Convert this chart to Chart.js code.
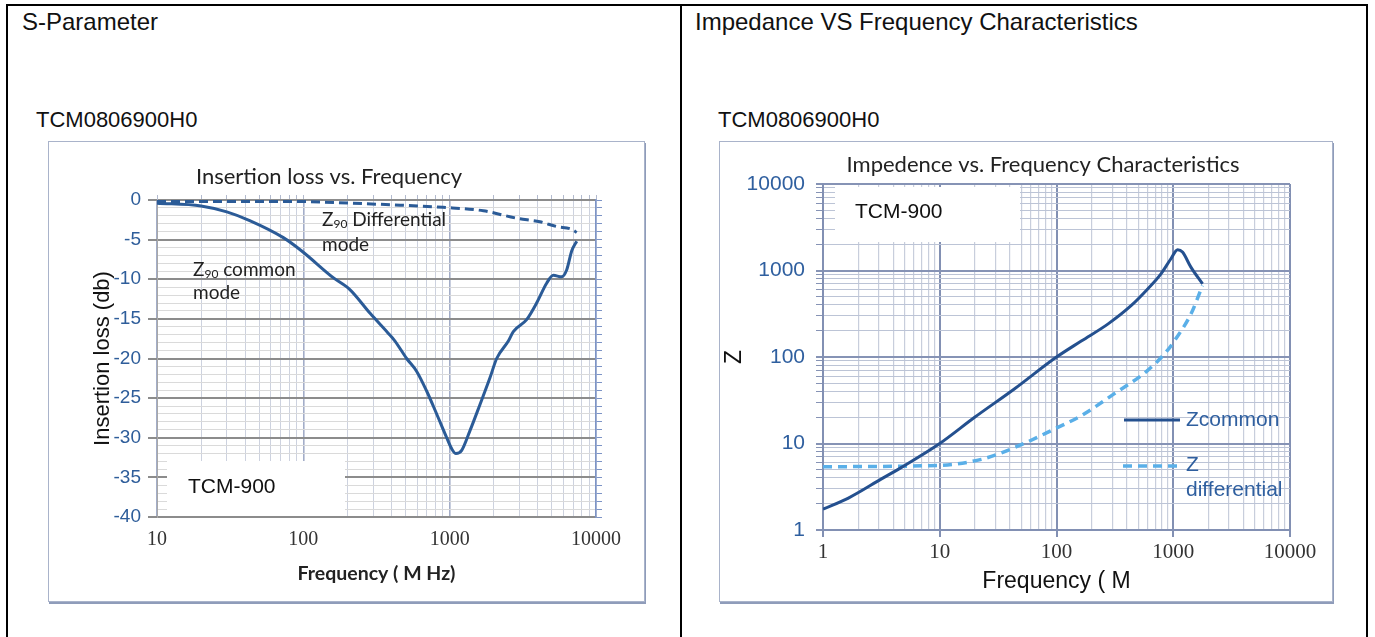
<!DOCTYPE html>
<html>
<head>
<meta charset="utf-8">
<script src="https://cdn.jsdelivr.net/npm/chart.js@4.4.1/dist/chart.umd.min.js"></script>
<style>
html,body{margin:0;padding:0;background:#fff;width:1375px;height:637px;overflow:hidden;font-family:"Liberation Sans",Arial,sans-serif;}
.frame{position:absolute;left:6px;top:4px;width:1362px;height:700px;border:2px solid #000;box-sizing:border-box;}
.divider{position:absolute;left:680px;top:4px;width:2px;height:700px;background:#000;}
.h{position:absolute;line-height:1;color:#111;white-space:nowrap;}
.h1{font-size:24px;}
.h2{font-size:22px;}
.box{position:absolute;border:1px solid #a9b3ca;box-shadow:1px 2px 0 #8f9cba;background:#fff;}
.box canvas{position:absolute;left:0;top:0;display:block;}
</style>
</head>
<body>
<div class="frame"></div>
<div class="divider"></div>
<div class="h h1" style="left:22px;top:10px;">S-Parameter</div>
<div class="h h1" style="left:695px;top:10px;">Impedance VS Frequency Characteristics</div>
<div class="h h2" style="left:36px;top:109px;">TCM0806900H0</div>
<div class="h h2" style="left:718px;top:109px;">TCM0806900H0</div>

<div class="box" style="left:48px;top:141px;width:595px;height:459px;">
  <canvas id="c1" width="595" height="459" style="width:595px;height:459px;"></canvas>
</div>
<div class="box" style="left:719px;top:141px;width:612px;height:459px;">
  <canvas id="c2" width="612" height="459" style="width:612px;height:459px;"></canvas>
</div>

<script>
// ---------- tick labels ----------
const lossTickLabels = [0, -5, -10, -15, -20, -25, -30, -35, -40];
const sFreqTickLabels = [10, 100, 1000, 10000];
const zFreqTickLabels = [1, 10, 100, 1000, 10000];
const zTickLabels = [1, 10, 100, 1000, 10000];

// ---------- S-parameter (insertion loss, dB) ----------
const commonFreq = [10, 20, 30, 43, 73, 97, 160, 208, 286, 380, 423, 508, 594, 696, 815, 955, 1033, 1104, 1208, 1377, 1612, 1888, 2095, 2518, 2723, 3358, 3928, 4600, 5110, 5820, 6310, 6830, 7385];
const commonLoss = [-0.4, -0.75, -1.5, -2.6, -4.75, -6.4, -9.8, -11.3, -14.3, -16.8, -17.8, -20, -21.6, -24.1, -27, -30, -31.4, -32, -31.6, -29.1, -25.8, -22.4, -20, -17.8, -16.6, -15.1, -13, -10.5, -9.5, -9.7, -8.8, -6.4, -5.2];
const diffFreq = [10, 95, 208, 459, 900, 1700, 2870, 4140, 5380, 6830, 7385];
const diffLoss = [-0.2, -0.2, -0.4, -0.65, -0.93, -1.36, -2.3, -2.75, -3.35, -3.7, -4.1];

// ---------- Impedance (ohm) ----------
const zcFreq = [1, 1.65, 3.17, 4.7, 10, 19.9, 43.8, 98, 163, 275, 435, 604, 785, 955, 1090, 1200, 1416, 1782];
const zCommon = [1.74, 2.34, 3.9, 5.3, 10, 20.1, 43, 98, 153, 240, 392, 612, 915, 1367, 1740, 1633, 1093, 700];
const zdFreq = [1, 10, 22.7, 43.8, 96, 163, 313, 604, 895, 1020, 1416, 1782];
const zDiff = [5.39, 5.59, 6.56, 8.98, 14.7, 21, 37.7, 70, 120, 153, 313, 670];

// ---------- helpers ----------
function logTicks(decades) {
  const out = [];
  for (let i = 0; i < decades.length - 1; i++) {
    for (let k = 1; k <= 9; k++) out.push(decades[i] * k);
  }
  out.push(decades[decades.length - 1]);
  return out;
}
function linTicks(labels) {
  const lo = Math.min(...labels), hi = Math.max(...labels);
  const out = [];
  for (let v = lo; v <= hi; v++) out.push(v);
  return out;
}
const isDecade = v => Math.abs(Math.log10(v) - Math.round(Math.log10(v))) < 1e-6;
const setTicks = vals => scale => { scale.ticks = vals.map(v => ({ value: v })); };
const pts = (xs, ys) => xs.map((x, i) => ({ x: x, y: ys[i] }));

const SANS = '"Liberation Sans", Arial, sans-serif';
const SERIF = '"Liberation Serif", "Times New Roman", serif';
const CAL = 'Lato, "Open Sans", sans-serif';

function txt(ctx, s, x, y, font, color) {
  ctx.save();
  ctx.font = font; ctx.fillStyle = color;
  ctx.textAlign = 'left'; ctx.textBaseline = 'middle';
  ctx.fillText(s, x, y);
  const w = ctx.measureText(s).width;
  ctx.restore();
  return w;
}
function zSub(ctx, x, y, rest) {
  const w = txt(ctx, 'Z', x, y, '19px ' + CAL, '#222');
  const w2 = txt(ctx, '90', x + w, y + 4, '12px ' + CAL, '#222');
  txt(ctx, rest, x + w + w2, y, '19px ' + CAL, '#222');
}

Chart.defaults.font.family = SANS;

// ---------- Chart 1 : Insertion loss ----------
const sMinor = logTicks(sFreqTickLabels);
const lossAll = linTicks(lossTickLabels);

const notes1 = {
  id: 'notes1',
  beforeDatasetsDraw(chart) {
    const ctx = chart.ctx;
    ctx.save();
    ctx.fillStyle = '#fff';
    ctx.fillRect(118, 319, 178, 55);
    ctx.restore();
    txt(ctx, 'TCM-900', 139, 345, '21px ' + SANS, '#111');
    zSub(ctx, 273, 78, ' Differential');
    txt(ctx, 'mode', 273, 103, '19px ' + CAL, '#222');
    zSub(ctx, 144, 128, ' common');
    txt(ctx, 'mode', 144, 151, '19px ' + CAL, '#222');
  }
};

new Chart(document.getElementById('c1'), {
  type: 'line',
  data: {
    datasets: [
      { label: 'Z90 common mode', data: pts(commonFreq, commonLoss), borderColor: '#2b5b97', borderWidth: 3, pointRadius: 0, cubicInterpolationMode: 'monotone', fill: false },
      { label: 'Z90 Differential mode', data: pts(diffFreq, diffLoss), borderColor: '#2b5b97', borderWidth: 3, borderDash: [9, 5], pointRadius: 0, cubicInterpolationMode: 'monotone', fill: false }
    ]
  },
  options: {
    responsive: false, animation: false,
    layout: { padding: { left: 0, right: 35, top: 0, bottom: 0 } },
    plugins: {
      legend: { display: false }, tooltip: { enabled: false },
      title: { display: true, text: 'Insertion loss vs. Frequency', color: '#222', font: { family: CAL, size: 22, weight: 'normal' }, padding: { top: 21.8, bottom: 3.8 } }
    },
    scales: {
      x: {
        type: 'logarithmic', position: 'bottom', min: 10, max: 10000,
        afterBuildTicks: setTicks(sMinor),
        afterFit: s => { s.height = 84; },
        ticks: { autoSkip: false, maxRotation: 0, padding: 11, color: '#333', font: { family: SERIF, size: 20 },
          callback: v => sFreqTickLabels.includes(v) ? String(v) : '' },
        grid: { drawTicks: false,
          color: c => isDecade(c.tick.value) ? '#a3adc8' : '#cdd2df',
          lineWidth: c => isDecade(c.tick.value) ? 1.6 : 1 },
        border: { display: true, color: '#8c8c8c', width: 2 },
        title: { display: true, text: 'Frequency ( M Hz)', color: '#222', font: { family: CAL, size: 19.5, weight: 'bold' }, padding: { top: 0, bottom: 16 } }
      },
      x2: {
        type: 'logarithmic', position: 'top', min: 10, max: 10000,
        afterBuildTicks: setTicks(sMinor),
        afterFit: s => { s.height = 6; },
        ticks: { display: false },
        grid: { drawOnChartArea: false, drawTicks: true, tickLength: 5, tickColor: '#b3bbcf', color: '#b3bbcf' },
        border: { display: false }
      },
      y: {
        type: 'linear', position: 'left', min: -40, max: 0,
        afterBuildTicks: setTicks(lossAll),
        afterFit: s => { s.width = 108; },
        ticks: { autoSkip: false, padding: 7, color: '#2e5d9a', font: { family: SANS, size: 19 },
          callback: v => lossTickLabels.includes(v) ? String(v) : '' },
        grid: { drawTicks: true, tickLength: 9,
          color: c => lossTickLabels.includes(c.tick.value) ? '#8c8c8c' : '#dadada',
          lineWidth: c => lossTickLabels.includes(c.tick.value) ? 2 : 1,
          tickColor: c => lossTickLabels.includes(c.tick.value) ? '#8c8c8c' : 'rgba(0,0,0,0)' },
        border: { display: true, color: '#a8a8a8', width: 1 },
        title: { display: true, text: 'Insertion loss (db)', color: '#111', font: { family: SANS, size: 22 }, padding: { top: 41, bottom: 0 } }
      },
      y2: {
        type: 'linear', position: 'right', min: -40, max: 0,
        afterBuildTicks: setTicks(lossAll),
        afterFit: s => { s.width = 13; },
        ticks: { display: false },
        grid: { drawOnChartArea: false, drawTicks: true, tickLength: 6, tickColor: '#7d94c6', color: '#7d94c6' },
        border: { display: true, color: '#7d94c6', width: 1.5 }
      }
    }
  },
  plugins: [notes1]
});

// ---------- Chart 2 : Impedance ----------
const zfMinor = logTicks(zFreqTickLabels);
const zMinor = logTicks(zTickLabels);

const notes2 = {
  id: 'notes2',
  beforeDatasetsDraw(chart) {
    const ctx = chart.ctx;
    ctx.save();
    ctx.fillStyle = '#fff';
    ctx.fillRect(115, 45, 185, 55);
    ctx.restore();
    txt(ctx, 'TCM-900', 135, 70, '21px ' + SANS, '#111');
  },
  afterDatasetsDraw(chart) {
    const ctx = chart.ctx;
    ctx.save();
    ctx.lineWidth = 3; ctx.strokeStyle = '#24508f';
    ctx.beginPath(); ctx.moveTo(404, 278); ctx.lineTo(460, 278); ctx.stroke();
    ctx.lineWidth = 3.5; ctx.strokeStyle = '#5aafe8'; ctx.setLineDash([9, 6]);
    ctx.beginPath(); ctx.moveTo(403, 324); ctx.lineTo(462, 324); ctx.stroke();
    ctx.restore();
    txt(ctx, 'Zcommon', 466, 278, '21px ' + SANS, '#2f5f9f');
    txt(ctx, 'Z', 466, 323, '21px ' + SANS, '#2f5f9f');
    txt(ctx, 'differential', 466, 348, '21px ' + SANS, '#2f5f9f');
  }
};

new Chart(document.getElementById('c2'), {
  type: 'line',
  data: {
    datasets: [
      { label: 'Zcommon', data: pts(zcFreq, zCommon), borderColor: '#24508f', borderWidth: 3, pointRadius: 0, cubicInterpolationMode: 'monotone', fill: false },
      { label: 'Z differential', data: pts(zdFreq, zDiff), borderColor: '#5aafe8', borderWidth: 3.5, borderDash: [9, 6], pointRadius: 0, cubicInterpolationMode: 'monotone', fill: false }
    ]
  },
  options: {
    responsive: false, animation: false,
    layout: { padding: { left: 18, right: -16, top: 0, bottom: 0 } },
    plugins: {
      legend: { display: false }, tooltip: { enabled: false },
      title: { display: true, text: 'Impedence vs. Frequency Characteristics', color: '#222', font: { family: CAL, size: 22, weight: 'normal' }, padding: { top: 9.8, bottom: 5.8 } }
    },
    scales: {
      x: {
        type: 'logarithmic', position: 'bottom', min: 1, max: 10000,
        afterBuildTicks: setTicks(zfMinor),
        afterFit: s => { s.height = 71; },
        ticks: { autoSkip: false, maxRotation: 0, padding: 3, color: '#333', font: { family: SERIF, size: 21 },
          callback: v => zFreqTickLabels.includes(v) ? String(v) : '' },
        grid: { drawTicks: true, tickLength: 7,
          color: c => isDecade(c.tick.value) ? '#8290b3' : '#c8cedc',
          lineWidth: c => isDecade(c.tick.value) ? 2 : 1.2,
          tickColor: c => isDecade(c.tick.value) ? '#8290b3' : 'rgba(0,0,0,0)' },
        border: { display: true, color: '#8290b3', width: 2 },
        title: { display: true, text: 'Frequency ( M', color: '#111', font: { family: SANS, size: 23 }, padding: { top: 0, bottom: 6 } }
      },
      y: {
        type: 'logarithmic', position: 'left', min: 1, max: 10000,
        afterBuildTicks: setTicks(zMinor),
        afterFit: s => { s.width = 85; },
        ticks: { autoSkip: false, padding: 11, color: '#2f5f9f', font: { family: SANS, size: 21 },
          callback: v => zTickLabels.includes(v) ? String(v) : '' },
        grid: { drawTicks: true, tickLength: 7,
          color: c => isDecade(c.tick.value) ? '#8693b5' : '#bcc4d6',
          lineWidth: c => isDecade(c.tick.value) ? 2 : 1,
          tickColor: '#8693b5' },
        border: { display: true, color: '#8290b3', width: 2 },
        title: { display: true, text: 'Z', color: '#111', font: { family: SANS, size: 23 }, padding: { top: -16.8, bottom: 0 } }
      },
      y2: {
        type: 'linear', position: 'right', min: 0, max: 1,
        afterFit: s => { s.width = 58; },
        ticks: { display: false },
        grid: { display: false },
        border: { display: false }
      }
    }
  },
  plugins: [notes2]
});
</script>
</body>
</html>
